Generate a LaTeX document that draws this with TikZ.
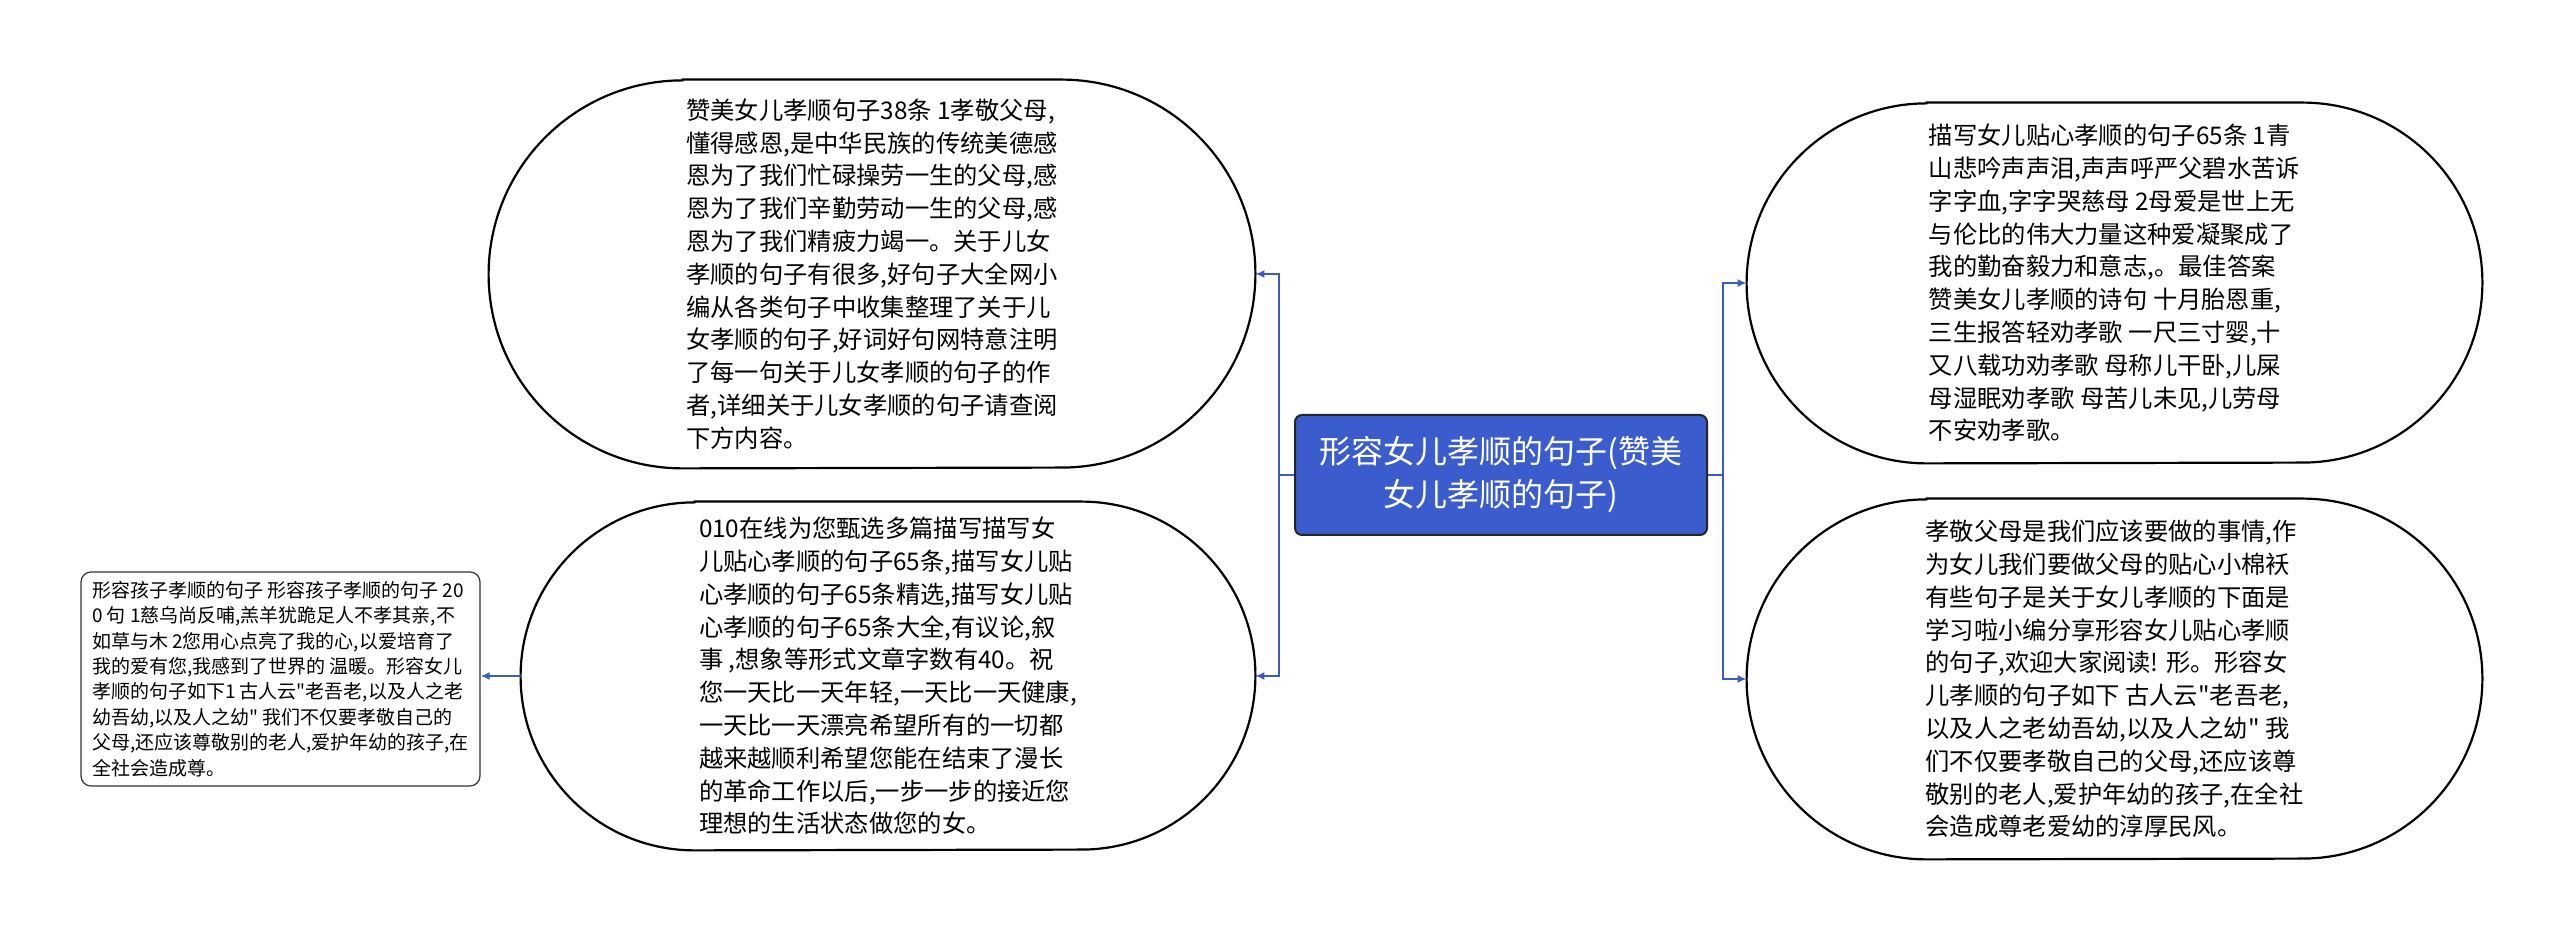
\documentclass[tikz,border=0pt]{standalone}
\usepackage{fontspec}
\setmainfont{Noto Sans CJK SC}[Ligatures=TeXOff]
\usetikzlibrary{arrows.meta}
\definecolor{rootblue}{RGB}{59,92,204}
\definecolor{linkblue}{RGB}{60,90,196}
\tikzset{
  pillbox/.style={rectangle, draw=none, inner sep=0pt, align=left,
    font=\fontsize{12.15pt}{16.4pt}\selectfont},
  pill/.style={draw=black, line width=1.1pt},
  rootbox/.style={rectangle, rounded corners=3.5pt, fill=rootblue, draw=black!85,
    line width=1pt, minimum width=206pt, minimum height=60pt, text=white,
    align=center, inner sep=0pt, font=\fontsize{16pt}{21.5pt}\selectfont},
  leafbox/.style={rectangle, rounded corners=5pt, draw=black!80, line width=0.6pt,
    minimum width=199.5pt, minimum height=107pt, inner sep=0pt, align=left,
    font=\fontsize{9.5pt}{12.7pt}\selectfont},
  conn/.style={draw=linkblue, line width=1pt},
  arr/.style={conn, -{Latex[length=4.5pt,width=4pt]}}
}
\newcommand\pilloutline[2]{%
  \draw[pill] ([xshift=#2]#1.north west) -- ([xshift=-#2]#1.north east)
    arc[start angle=90,end angle=-90,radius=#2]
    -- ([xshift=#2]#1.south west)
    arc[start angle=270,end angle=90,radius=#2] -- cycle;}
\begin{document}
\begin{tikzpicture}[x=0.5pt,y=0.5pt]
\fill[white] (0,0) rectangle (2560,935);
\useasboundingbox (0,0) rectangle (2560,935);

\node[rootbox] (C) at (1501,460) {形容女儿孝顺的句子(赞美\\女儿孝顺的句子)};

\node[pillbox, minimum width=383pt, minimum height=194pt] (TL) at (872,661) {赞美女儿孝顺句子38条 1孝敬父母,\\
懂得感恩,是中华民族的传统美德感\\
恩为了我们忙碌操劳一生的父母,感\\
恩为了我们辛勤劳动一生的父母,感\\
恩为了我们精疲力竭一。关于儿女\\
孝顺的句子有很多,好句子大全网小\\
编从各类句子中收集整理了关于儿\\
女孝顺的句子,好词好句网特意注明\\
了每一句关于儿女孝顺的句子的作\\
者,详细关于儿女孝顺的句子请查阅\\
下方内容。};
\pilloutline{TL}{97pt}

\node[pillbox, minimum width=367pt, minimum height=174pt] (BL) at (888,259) {010在线为您甄选多篇描写描写女\\
儿贴心孝顺的句子65条,描写女儿贴\\
心孝顺的句子65条精选,描写女儿贴\\
心孝顺的句子65条大全,有议论,叙\\
事 ,想象等形式文章字数有40。祝\\
您一天比一天年轻,一天比一天健康,\\
一天比一天漂亮希望所有的一切都\\
越来越顺利希望您能在结束了漫长\\
的革命工作以后,一步一步的接近您\\
理想的生活状态做您的女。};
\pilloutline{BL}{87pt}

\node[leafbox] (LB) at (280.5,256) {形容孩子孝顺的句子 形容孩子孝顺的句子 20\\
0 句 1慈乌尚反哺,羔羊犹跪足人不孝其亲,不\\
如草与木 2您用心点亮了我的心,以爱培育了\\
我的爱有您,我感到了世界的 温暖。形容女儿\\
孝顺的句子如下1 古人云"老吾老,以及人之老\\
幼吾幼,以及人之幼" 我们不仅要孝敬自己的\\
父母,还应该尊敬别的老人,爱护年幼的孩子,在\\
全社会造成尊。};

\node[pillbox, minimum width=367.5pt, minimum height=180pt] (RT) at (2114.5,652) {描写女儿贴心孝顺的句子65条 1青\\
山悲吟声声泪,声声呼严父碧水苦诉\\
字字血,字字哭慈母 2母爱是世上无\\
与伦比的伟大力量这种爱凝聚成了\\
我的勤奋毅力和意志,。最佳答案\\
赞美女儿孝顺的诗句 十月胎恩重,\\
三生报答轻劝孝歌 一尺三寸婴,十\\
又八载功劝孝歌 母称儿干卧,儿屎\\
母湿眠劝孝歌 母苦儿未见,儿劳母\\
不安劝孝歌。};
\pilloutline{RT}{90pt}

\node[pillbox, minimum width=367.5pt, minimum height=180pt] (RB) at (2114.5,256) {孝敬父母是我们应该要做的事情,作\\
为女儿我们要做父母的贴心小棉袄\\
有些句子是关于女儿孝顺的下面是\\
学习啦小编分享形容女儿贴心孝顺\\
的句子,欢迎大家阅读! 形。形容女\\
儿孝顺的句子如下 古人云"老吾老,\\
以及人之老幼吾幼,以及人之幼" 我\\
们不仅要孝敬自己的父母,还应该尊\\
敬别的老人,爱护年幼的孩子,在全社\\
会造成尊老爱幼的淳厚民风。};
\pilloutline{RB}{90pt}

\draw[conn] (C.west) -- ++(-7.5pt,0) coordinate (lj);
\draw[arr] (lj) |- (TL.east);
\draw[arr] (lj) |- (BL.east);
\draw[conn] (C.east) -- ++(7.5pt,0) coordinate (rj);
\draw[arr] (rj) |- (RT.west);
\draw[arr] (rj) |- (RB.west);
\draw[arr] (BL.west) -- (BL.west -| LB.east);
\end{tikzpicture}
\end{document}
